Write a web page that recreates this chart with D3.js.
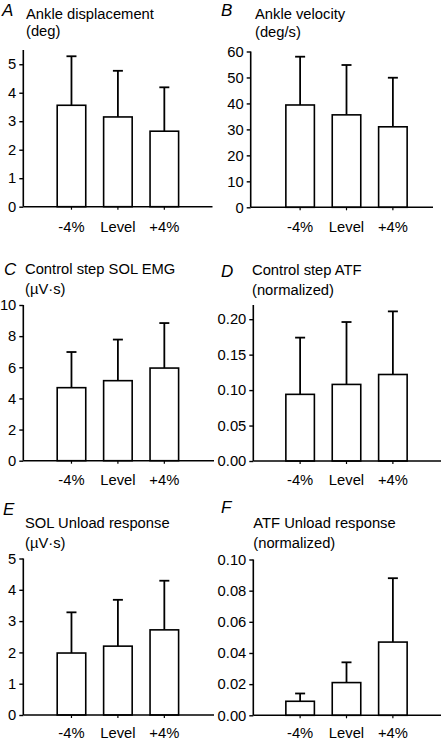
<!DOCTYPE html>
<html>
<head>
<meta charset="utf-8">
<script src="https://cdn.jsdelivr.net/npm/d3@7"></script>
<style>
  html, body { margin: 0; padding: 0; background: #fff; }
  svg text { font-family: "Liberation Sans", Arial, sans-serif; fill: #000; }
</style>
</head>
<body>
<svg id="chart" width="441" height="739"></svg>
<script>
// ---- data ----
const categories = ["-4%", "Level", "+4%"];

const ankleDispMean = [3.56, 3.15, 2.65];
const ankleDispSD   = [1.72, 1.62, 1.54];

const ankleVelMean = [39.4, 35.6, 31.0];
const ankleVelSD   = [18.6, 19.2, 18.9];

const solEmgMean = [4.69, 5.14, 5.95];
const solEmgSD   = [2.29, 2.64, 2.89];

const atfMean = [0.094, 0.108, 0.122];
const atfSD   = [0.080, 0.088, 0.089];

const solUnloadMean = [1.98, 2.20, 2.72];
const solUnloadSD   = [1.30, 1.48, 1.57];

const atfUnloadMean = [0.009, 0.021, 0.047];
const atfUnloadSD   = [0.005, 0.013, 0.041];

const ticksA = [0, 1, 2, 3, 4, 5];
const ticksB = [0, 10, 20, 30, 40, 50, 60];
const ticksC = [0, 2, 4, 6, 8, 10];
const ticksD = [0, 0.05, 0.10, 0.15, 0.20];
const ticksE = [0, 1, 2, 3, 4, 5];
const ticksF = [0, 0.02, 0.04, 0.06, 0.08, 0.10];

// ---- layout ----
const svg = d3.select("#chart");

// calibrate font size so that a reference string gets its measured width
const probe = svg.append("text").style("font-size", "14px").text("Control step SOL EMG");
const probeW = probe.node().getComputedTextLength();
probe.remove();
const k = probeW > 0 ? 150.5 / probeW : 1;
const FS = 14 * k;           // main text size
const FS_LETTER = 17;        // panel letters

const panels = [
  { letter: "A", title: ["Ankle displacement", "(deg)"], mean: ankleDispMean, sd: ankleDispSD,
    max: 5.5, ticks: ticksA, fmt: d3.format("d"),
    col: 0, axisX: 23.3, bottom: 206.7, top: 50, axisEnd: 212.5,
    letterPos: [2, 16], titleX: 26, titleY: [19, 36], catY: 231.5 },
  { letter: "B", title: ["Ankle velocity", "(deg/s)"], mean: ankleVelMean, sd: ankleVelSD,
    max: 60, ticks: ticksB, fmt: d3.format("d"),
    col: 1, axisX: 250.7, bottom: 207.3, top: 51.5, axisEnd: 433,
    letterPos: [221, 15.5], titleX: 255, titleY: [19, 36.5], catY: 231.5 },
  { letter: "C", title: ["Control step SOL EMG", "(\u00B5V\u00B7s)"], mean: solEmgMean, sd: solEmgSD,
    max: 10, ticks: ticksC, fmt: d3.format("d"),
    col: 0, axisX: 23.3, bottom: 460.7, top: 305, axisEnd: 214,
    letterPos: [4, 275], titleX: 25, titleY: [273.5, 293.5], catY: 485 },
  { letter: "D", title: ["Control step ATF", "(normalized)"], mean: atfMean, sd: atfSD,
    max: 0.22, ticks: ticksD, fmt: d3.format(".2f"),
    col: 1, axisX: 253.3, bottom: 461, top: 305, axisEnd: 441,
    letterPos: [221, 276.5], titleX: 252, titleY: [274.5, 295], catY: 485 },
  { letter: "E", title: ["SOL Unload response", "(\u00B5V\u00B7s)"], mean: solUnloadMean, sd: solUnloadSD,
    max: 5, ticks: ticksE, fmt: d3.format("d"),
    col: 0, axisX: 23.3, bottom: 715, top: 558.5, axisEnd: 214,
    letterPos: [3, 515], titleX: 25, titleY: [527.5, 547.5], catY: 737.5 },
  { letter: "F", title: ["ATF Unload response", "(normalized)"], mean: atfUnloadMean, sd: atfUnloadSD,
    max: 0.10, ticks: ticksF, fmt: d3.format(".2f"),
    col: 1, axisX: 253.3, bottom: 715.3, top: 559.5, axisEnd: 441,
    letterPos: [221, 513], titleX: 253.3, titleY: [527.5, 547.5], catY: 737.5 }
];

const colRange = [[23.3, 212.5], [252, 441]];

panels.forEach(p => {
  const g = svg.append("g");

  const x = d3.scaleBand()
    .domain(categories)
    .range(colRange[p.col])
    .paddingInner(0.385)
    .paddingOuter(0.73);

  const y = d3.scaleLinear().domain([0, p.max]).range([p.bottom, p.top]);

  // panel letter
  g.append("text")
    .attr("x", p.letterPos[0]).attr("y", p.letterPos[1])
    .style("font-size", FS_LETTER + "px").style("font-style", "italic")
    .text(p.letter);

  // title lines
  p.title.forEach((t, i) => {
    g.append("text")
      .attr("x", p.titleX).attr("y", p.titleY[i])
      .style("font-size", FS + "px")
      .text(t);
  });

  // y axis
  const yAxis = d3.axisLeft(y).tickValues(p.ticks).tickFormat(p.fmt)
    .tickSizeInner(4).tickSizeOuter(0).tickPadding(3);
  const ya = g.append("g").attr("transform", `translate(${p.axisX},0)`).call(yAxis);
  ya.select(".domain").attr("stroke", "#000").attr("stroke-width", 1.6)
    .attr("d", `M0,${y(p.max)}V${y(0)}`);
  ya.selectAll(".tick line").attr("stroke", "#000").attr("stroke-width", 1.4);
  ya.selectAll(".tick text").style("font-size", FS + "px").attr("fill", "#000")
    .style("font-family", "'Liberation Sans', Arial, sans-serif");

  // x axis: small ticks at category centres
  const xAxis = d3.axisBottom(x).tickSizeInner(3).tickSizeOuter(0).tickFormat("");
  const xa = g.append("g").attr("transform", `translate(0,${y(0)})`).call(xAxis);
  xa.select(".domain").remove();
  xa.selectAll(".tick line").attr("stroke", "#000").attr("stroke-width", 1.2);

  // error bars (upper only)
  const cap = 10;
  categories.forEach((c, i) => {
    const cx = x(c) + x.bandwidth() / 2;
    const yTop = y(p.mean[i] + p.sd[i]);
    g.append("line")
      .attr("x1", cx).attr("x2", cx)
      .attr("y1", y(p.mean[i])).attr("y2", yTop)
      .attr("stroke", "#000").attr("stroke-width", 1.8);
    g.append("line")
      .attr("x1", cx - cap / 2).attr("x2", cx + cap / 2)
      .attr("y1", yTop).attr("y2", yTop)
      .attr("stroke", "#000").attr("stroke-width", 1.8);
  });

  // bars
  g.selectAll("rect.bar")
    .data(categories.map((c, i) => ({ c, v: p.mean[i] })))
    .join("rect")
    .attr("class", "bar")
    .attr("x", d => x(d.c))
    .attr("width", x.bandwidth())
    .attr("y", d => y(d.v))
    .attr("height", d => y(0) - y(d.v))
    .attr("fill", "#fff")
    .attr("stroke", "#000")
    .attr("stroke-width", 1.6);

  // x axis line
  g.append("line")
    .attr("x1", p.axisX).attr("x2", p.axisEnd)
    .attr("y1", y(0)).attr("y2", y(0))
    .attr("stroke", "#000").attr("stroke-width", 1.6);

  // category labels
  g.selectAll("text.cat")
    .data(categories)
    .join("text")
    .attr("class", "cat")
    .attr("x", d => x(d) + x.bandwidth() / 2)
    .attr("y", p.catY)
    .attr("text-anchor", "middle")
    .style("font-size", FS + "px")
    .text(d => d);
});
</script>
</body>
</html>
